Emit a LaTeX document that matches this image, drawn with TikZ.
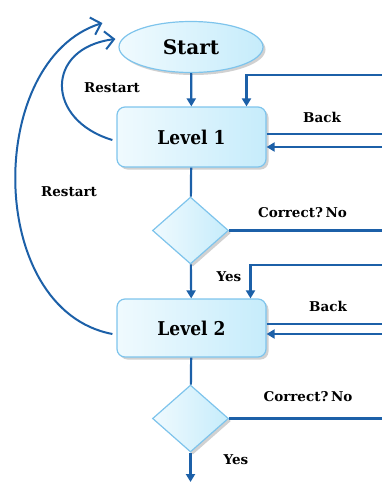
\documentclass[tikz,border=0pt]{standalone}
\usepackage{fontspec}
\setmainfont{DejaVu Serif}[FakeStretch=0.9]
\newfontfamily\widefont{DejaVu Serif}
\usetikzlibrary{arrows.meta,shapes.geometric,shadows}
\definecolor{lineblue}{RGB}{28,96,168}
\definecolor{borderblue}{RGB}{126,196,236}
\definecolor{fillA}{RGB}{240,250,254}
\definecolor{fillB}{RGB}{198,236,251}
\tikzset{
 conn/.style={draw=lineblue, line width=2.2pt},
 arr/.style={conn, -{Triangle[length=8pt,width=9pt]}},
 ret/.style={draw=lineblue, line width=2pt, -{Straight Barb[length=9pt,width=18pt]}},
 shapebox/.style={draw=borderblue, line width=1.2pt, left color=fillA, right color=fillB,
   drop shadow={shadow xshift=2.5pt, shadow yshift=-2.5pt, fill=black!40, opacity=0.45}},
 big/.style={font=\bfseries\fontsize{19}{22}\selectfont},
 bigwide/.style={font=\widefont\bfseries\fontsize{20}{23}\selectfont},
 lab/.style={font=\widefont\bfseries\fontsize{13.5}{16}\selectfont, inner sep=0pt},
}
\begin{document}
\begin{tikzpicture}[x=1pt,y=-1pt]
\useasboundingbox (0,0) rectangle (382,482);
\node[shapebox, ellipse, minimum width=144pt, minimum height=51pt, inner sep=0pt, bigwide] (start) at (191,47) {Start};
\node[shapebox, rounded corners=8pt, minimum width=149pt, minimum height=60pt, big] (l1) at (191.5,137) {Level 1};
\node[shapebox, diamond, minimum width=76pt, minimum height=67pt, inner sep=0pt] (d1) at (190.5,230.5) {};
\node[shapebox, rounded corners=8pt, minimum width=149pt, minimum height=58pt, big] (l2) at (191.5,328) {Level 2};
\node[shapebox, diamond, minimum width=76pt, minimum height=67pt, inner sep=0pt] (d2) at (190.5,418.5) {};
% right edge coordinates
\coordinate (e1) at (382,75);
\coordinate (b1o) at (382,134);
\coordinate (b1i) at (382,147);
\coordinate (n1) at (382,231.5);
\coordinate (e2) at (382,265);
\coordinate (b2o) at (382,324);
\coordinate (b2i) at (382,334);
\coordinate (n2) at (382,419);
\coordinate (bot) at (190.5,482);
% connectors
\draw[arr] (start) -- (l1);
\draw[arr] (e1) -| ([xshift=55pt]l1.north);
\draw[conn] (l1.east |- b1o) -- (b1o);
\draw[arr] (b1i) -- (l1.east |- b1i);
\draw[conn] (l1) -- (d1);
\draw[conn] (d1.east) -- (d1.east -| n1);
\draw[arr] (d1) -- (l2);
\draw[arr] (e2) -| ([xshift=59pt]l2.north);
\draw[conn] (l2.east |- b2o) -- (b2o);
\draw[arr] (b2i) -- (l2.east |- b2i);
\draw[conn] (l2) -- (d2);
\draw[conn] (d2.east) -- (d2.east -| n2);
\draw[arr] (d2) -- (bot);
% restart curves
\draw[ret] ([xshift=-4pt,yshift=-3pt]l1.west) .. controls (45,120) and (45,48) .. ([xshift=-3pt,yshift=8pt]start.west);
\draw[ret] ([xshift=-4pt,yshift=-6pt]l2.west) .. controls (-15,310) and (-15,60) .. ([xshift=-16pt,yshift=24pt]start.west);
% labels
\node[lab] (rs1) at (112,88) {Restart};
\node[lab] (rs2) at (69,192) {Restart};
\node[lab] (bk1) at (322,117) {Back};
\node[lab] (bk2) at (328,306) {Back};
\node[lab] (c1) at (302.5,213) {Correct?\kern-2pt\ No};
\node[lab] (c2) at (308,397) {Correct?\kern-2pt\ No};
\node[lab] (y1) at (229,277) {Yes};
\node[lab] (y2) at (236,460) {Yes};
\end{tikzpicture}
\end{document}
